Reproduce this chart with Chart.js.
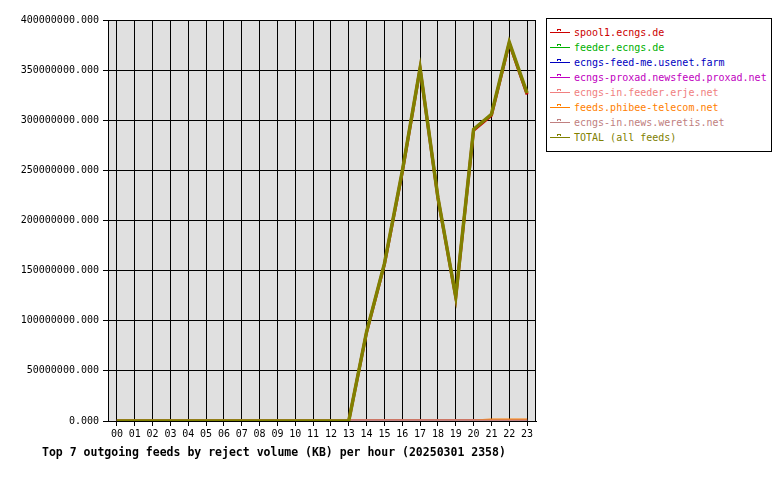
<!DOCTYPE html>
<html>
<head>
<meta charset="utf-8">
<script src="https://cdn.jsdelivr.net/npm/chart.js@4.4.1/dist/chart.umd.min.js"></script>
<style>
  body { margin: 0; background: #fff; }
  #wrap { position: relative; width: 780px; height: 480px; }
  #legend {
    position: absolute; left: 546px; top: 18px; width: 224px; height: 132px;
    border: 1px solid #000; background: #fff;
    font: 10px 'DejaVu Sans Mono', monospace;
  }
  .row { position: absolute; left: 0; height: 15px; line-height: 15px; white-space: nowrap; }
  .row .ln { position: absolute; left: 3px; top: 7px; width: 20px; height: 1px; }
  .row .sq { position: absolute; left: 10px; top: 4px; width: 2px; height: 1px; border: 1px solid; border-bottom: none; }
  .row .tx { position: absolute; left: 27px; top: 0; }
  #title {
    position: absolute; left: 42px; top: 445px;
    font: bold 11.5px 'DejaVu Sans Mono', monospace; line-height: 14px; color: #000;
  }
</style>
</head>
<body>
<div id="wrap">
  <canvas id="chart" width="780" height="480"></canvas>
  <div id="legend"></div>
  <div id="title">Top 7 outgoing feeds by reject volume (KB) per hour (20250301 2358)</div>
</div>
<script>
// Hours on the x-axis
const hours = ['00', '01', '02', '03', '04', '05', '06', '07', '08', '09', '10', '11',
               '12', '13', '14', '15', '16', '17', '18', '19', '20', '21', '22', '23'];

// Feed names and their colours
const feedNames = ['spool1.ecngs.de', 'feeder.ecngs.de', 'ecngs-feed-me.usenet.farm',
                   'ecngs-proxad.newsfeed.proxad.net', 'ecngs-in.feeder.erje.net',
                   'feeds.phibee-telecom.net', 'ecngs-in.news.weretis.net', 'TOTAL (all feeds)'];
const feedColors = ['#cc0000', '#00b000', '#0000c0', '#c000c0', '#f08080', '#ff8000', '#c08080', '#808000'];

// Reject volume (KB) per hour
const spool1 = [0, 0, 0, 0, 0, 0, 0, 0, 0, 0, 0, 0, 0, 0,
                88500000, 156200000, 248000000, 351500000, 222500000, 123500000,
                290000000, 304800000, 377000000, 325800000];
const feederEcngs = [0, 0, 0, 0, 0, 0, 0, 0, 0, 0, 0, 0, 0, 0, 0, 0, 0, 0, 0, 0, 0, 0, 0, 0];
const usenetFarm = [0, 0, 0, 0, 0, 0, 0, 0, 0, 0, 0, 0, 0, 0, 0, 0, 0, 0, 0, 0, 0, 0, 0, 0];
const proxad = [0, 0, 0, 0, 0, 0, 0, 0, 0, 0, 0, 0, 0, 0, 0, 0, 0, 0, 0, 0, 0, 0, 0, 0];
const erje = [0, 0, 0, 0, 0, 0, 0, 0, 0, 0, 0, 0, 0, 0, 0, 0, 0, 0, 0, 0, 0, 0, 0, 0];
const phibee = [0, 0, 0, 0, 0, 0, 0, 0, 0, 0, 0, 0, 0, 0, 0, 0, 0, 0, 0, 0,
                0, 1000000, 1000000, 1000000];
const weretis = [0, 0, 0, 0, 0, 0, 0, 0, 0, 0, 0, 0, 0, 0, 0, 0, 0, 0, 0, 0, 0, 0, 0, 0];
const total = [0, 0, 0, 0, 0, 0, 0, 0, 0, 0, 0, 0, 0, 0,
               89000000, 157000000, 249000000, 352000000, 223000000, 124000000,
               291000000, 306000000, 378000000, 327000000];

const series = [spool1, feederEcngs, usenetFarm, proxad, erje, phibee, weretis, total];

// Y-axis ticks
const yMax = 400000000;
const yStep = 50000000;

Chart.defaults.font.family = "'DejaVu Sans Mono', monospace";
Chart.defaults.font.size = 10;
Chart.defaults.color = '#000';

// Grey plot background plus the right-hand border
const plotBackground = {
    id: 'plotBackground',
    beforeDraw(chart) {
        const a = chart.chartArea;
        const c = chart.ctx;
        c.save();
        c.fillStyle = '#e0e0e0';
        c.fillRect(a.left, a.top, a.right - a.left, a.bottom - a.top);
        c.restore();
    },
    beforeDatasetsDraw(chart) {
        const a = chart.chartArea;
        const c = chart.ctx;
        c.save();
        c.strokeStyle = '#000';
        c.lineWidth = 1;
        c.beginPath();
        c.moveTo(Math.round(a.right) - 0.5, a.top);
        c.lineTo(Math.round(a.right) - 0.5, a.bottom);
        c.stroke();
        c.restore();
    }
};

const datasets = series.map(function(values, i) {
    return {
        label: feedNames[i],
        data: values,
        borderColor: feedColors[i],
        backgroundColor: feedColors[i],
        borderWidth: i === series.length - 1 ? 3.5 : 3,
        pointRadius: 0,
        tension: 0,
        order: series.length - i   // first feed drawn first, TOTAL on top
    };
});

const ctx = document.getElementById('chart').getContext('2d');
const myChart = new Chart(ctx, {
    type: 'line',
    data: { labels: hours, datasets: datasets },
    options: {
        responsive: false,
        animation: false,
        layout: { padding: { left: 0, top: 20, right: 244, bottom: 29 } },
        plugins: {
            legend: { display: false },
            tooltip: { enabled: false }
        },
        scales: {
            x: {
                offset: true,
                grid: { color: '#000', lineWidth: 1, tickLength: 5, offset: false },
                border: { color: '#000', width: 1 },
                ticks: { autoSkip: false, maxRotation: 0, padding: 2, color: '#000' },
                afterFit: function(scale) { scale.height = 30; }
            },
            y: {
                min: 0,
                max: yMax,
                grid: { color: '#000', lineWidth: 1, tickLength: 5 },
                border: { color: '#000', width: 1 },
                ticks: {
                    stepSize: yStep,
                    padding: 4,
                    color: '#000',
                    callback: function(v) { return Number(v).toFixed(3); }
                },
                afterFit: function(scale) { scale.width = 108; }
            }
        }
    },
    plugins: [plotBackground]
});

// Build the boxed legend on the right
const legendBox = document.getElementById('legend');
feedNames.forEach(function(name, i) {
    const row = document.createElement('div');
    row.className = 'row';
    row.style.top = (6 + i * 15) + 'px';
    row.innerHTML = '<span class="ln"></span><span class="sq"></span><span class="tx"></span>';
    row.querySelector('.ln').style.background = feedColors[i];
    row.querySelector('.sq').style.borderColor = feedColors[i];
    row.querySelector('.tx').style.color = feedColors[i];
    row.querySelector('.tx').textContent = name;
    legendBox.appendChild(row);
});
</script>
</body>
</html>
